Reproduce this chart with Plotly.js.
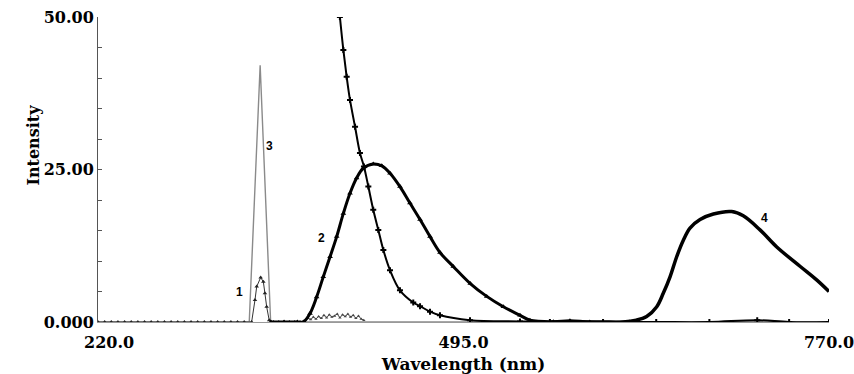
<!DOCTYPE html>
<html>
<head>
<meta charset="utf-8">
<script src="https://cdn.plot.ly/plotly-3.0.1.min.js"></script>
<style>html,body{margin:0;padding:0;background:#fff;}#chart{width:854px;height:374px;}</style>
</head>
<body>
<div id="chart"></div>
<script>
// Curve 1 (triangles, small peak)
const wl1 = [220,225,230,235,240,245,250,255,260,265,270,275,280,285,290,295,300,305,310,315,320,325,330,335.6,338.1,339.4,342.4,344.4,345.6,346.9,348.8,352,356,360,364,368,372,375];
const v1  = [0,0,0,0,0,0,0,0,0,0,0,0,0,0,0,0,0,0,0,0,0,0,0,0,3.6,5.8,7.3,6.6,4.7,2.5,0.3,0,0,0,0,0,0,0];
// noisy baseline segment
const wlN = [376,378,380,382,384,386,388,390,392,394,396,398,400,402,404,406,408,410,412,414,416,418,420];
const vN  = [0.3,0.6,0.4,0.8,0.5,0.9,0.6,1.1,0.7,1.2,0.8,1.0,1.3,0.7,1.2,0.9,1.3,0.8,1.1,0.6,1.0,0.5,0.3];
// Curve 2 (triangles, broad peak)
const wl2 = [350,360,370,374.5,379.5,384.5,389.5,394.6,399.6,404.6,409.6,414.6,419.6,427.1,433.5,439.7,447.2,454.7,462.3,469.8,477.3,487.3,500.1,512.5,525.0,537.5,545.0,562.6,575.1,590,620];
const v2  = [0,0,0,0,1.4,4.1,7.4,10.7,14.0,17.8,21.1,23.6,25.2,25.9,25.6,24.4,22.2,19.5,16.8,14.0,11.4,9.1,6.3,4.2,2.5,1.1,0.3,0.05,0.2,0,0];
// Curve 3 (grey line, sharp peak)
const wl3 = [220,333.8,342.0,349.9,770];
const v3  = [0,0,42.1,0,0];
// Steep decaying curve (crosses)
const wl5 = [402.0,404.6,407.1,409.6,413.4,417.1,420.1,423.4,427.1,430.9,434.7,439.7,447.2,457.2,462.3,469.8,477.3,499.9,537.5,560,600,640,680,716,740,770];
const v5  = [50,44.6,40.2,36.4,32.0,27.7,25.5,22.2,18.4,15.1,11.8,8.5,5.2,3.2,2.6,1.7,1.1,0.3,0.1,0,0,0,0,0.3,0,0];
// Curve 4
const wl4 = [560,597.7,615,625,632.8,640.4,645.3,650.4,655.4,660.4,665.4,673.0,683.0,696.8,705.5,718.1,730.7,748.4,760.7,770];
const v4  = [0,0,0,0.3,0.9,2.5,4.7,7.4,10.7,13.4,15.4,16.8,17.7,18.1,17.4,15.1,12.3,9.1,6.9,5.0];

const yTickVals = [0,5,10,15,20,25,30,35,40,45,50];
const yTickText = ['0.000','','','','','25.00','','','','','50.00'];
const xTickVals = [220,495,770];
const xTickText = ['\u00a0\u00a0\u00a0\u00a0220.0','495.0','770.0'];

const serif = {family:'DejaVu Serif, serif', size:16, color:'#000', weight:'bold'};
const serifTitle = {family:'DejaVu Serif, serif', size:17, color:'#000', weight:'bold'};
const sans = {family:'Liberation Sans, Arial, sans-serif', size:12, color:'#000', weight:'bold'};

const traces = [
  {x:wl3, y:v3, mode:'lines', line:{color:'#8a8a8a', width:1.4}},
  {x:wl1, y:v1, mode:'lines+markers', line:{color:'#333', width:1}, marker:{symbol:'triangle-up', size:4, color:'#222'}},
  {x:wlN, y:vN, mode:'lines+markers', line:{color:'#444', width:1}, marker:{symbol:'triangle-up', size:3, color:'#444'}},
  {x:wl2, y:v2, mode:'lines+markers', line:{color:'#000', width:3, shape:'spline'}, marker:{symbol:'triangle-up', size:5, color:'#000'}},
  {x:wl5, y:v5, mode:'lines+markers', line:{color:'#000', width:2, shape:'spline'}, marker:{symbol:'cross', size:5, color:'#000'}},
  {x:wl4, y:v4, mode:'lines', line:{color:'#000', width:3.5, shape:'spline'}}
];

const layout = {
  width:854, height:374,
  margin:{l:98, r:25, t:17, b:52},
  paper_bgcolor:'#fff', plot_bgcolor:'#fff',
  showlegend:false,
  xaxis:{
    range:[220,770], tickvals:xTickVals, ticktext:xTickText,
    ticks:'', showgrid:false, zeroline:false,
    showline:true, linecolor:'#999', linewidth:1,
    tickfont:serif, ticklabelstandoff:6, ticklabeloverflow:'allow',
    title:{text:'Wavelength (nm)', font:serifTitle, standoff:8}
  },
  yaxis:{
    range:[0,50], tickvals:yTickVals, ticktext:yTickText,
    ticks:'inside', ticklen:4, tickcolor:'#555',
    showgrid:false, zeroline:false,
    showline:true, linecolor:'#555', linewidth:1,
    tickfont:serif, ticklabeloverflow:'allow'
  },
  annotations:[
    {xref:'paper', yref:'paper', x:-0.104, y:0.58, text:'Intensity', textangle:-90, showarrow:false, font:serif},
    {x:349.4, y:28.9, text:'3', showarrow:false, font:sans},
    {x:326.8, y:4.9, text:'1', showarrow:false, font:sans},
    {x:387.8, y:13.8, text:'2', showarrow:false, font:sans},
    {x:721.8, y:17.0, text:'4', showarrow:false, font:sans}
  ]
};

Plotly.newPlot('chart', traces, layout, {displayModeBar:false, staticPlot:true});
</script>
</body>
</html>
